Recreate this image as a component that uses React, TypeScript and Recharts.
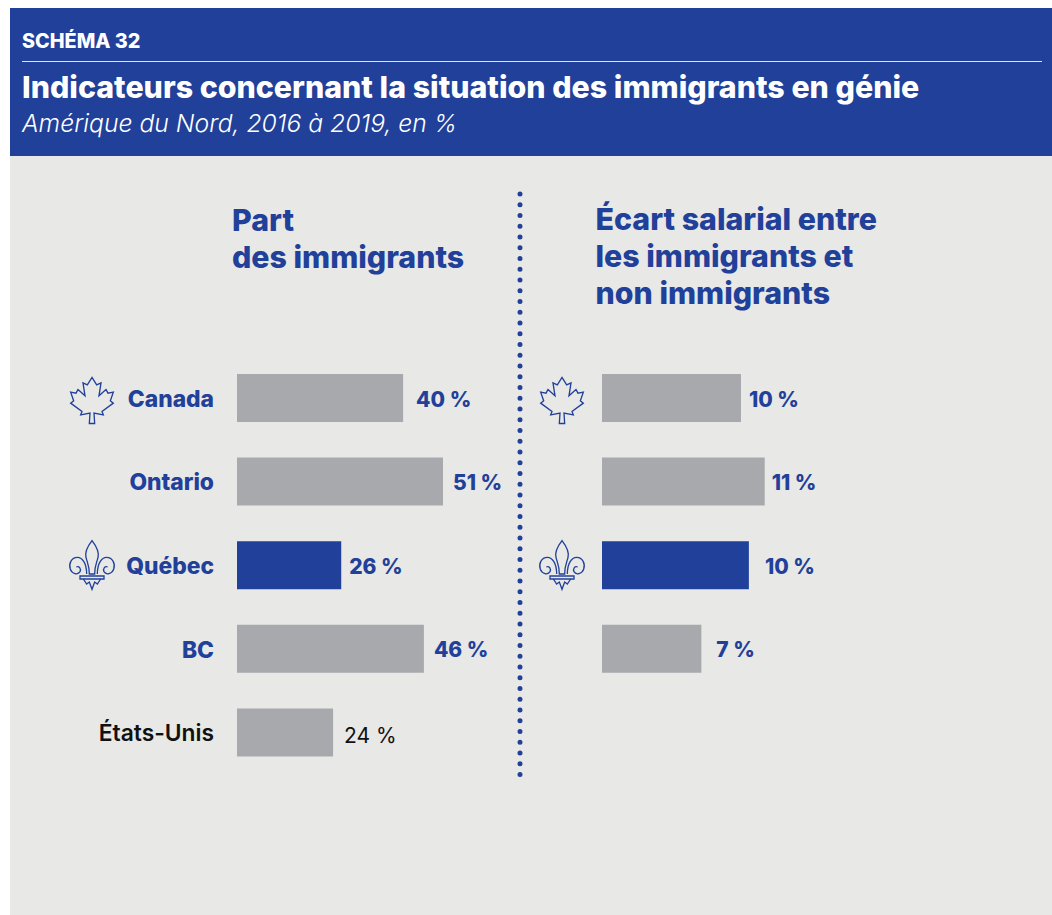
import { BarChart, Bar, Cell, XAxis, YAxis } from 'recharts';

const regions = ['Canada', 'Ontario', 'Québec', 'BC', 'États-Unis'];
const immigrantShare = [40.8, 50.6, 25.6, 45.9, 23.6];
const immigrantShareLabels = ['40 %', '51 %', '26 %', '46 %', '24 %'];
const wageGap = [9.65, 11.3, 10.2, 6.9, null];
const wageGapLabels = ['10 %', '11 %', '10 %', '7 %', ''];

const shareData = regions.map((region, i) => ({ region, value: immigrantShare[i], label: immigrantShareLabels[i] }));
const gapData = regions.map((region, i) => ({ region, value: wageGap[i], label: wageGapLabels[i] }));

// the labels in the original sit at uneven distances from the bars
const shareLabelGaps = [13, 10, 8, 10, 11];
const gapLabelGaps = [8, 7, 16, 15, 0];

const BLUE = '#21409a';
const GREY = '#a7a9ac';
const FONT = 'Inter, sans-serif';

const MAPLE =
  'M126 50 L140 72 L153 66 L147 105 L168 86 L174 97 L190 94 L181 120 L190 127 L156 152 L160 162 L132 157 L134 188 L118 188 L120 157 L92 162 L96 152 L62 127 L71 120 L62 94 L78 97 L84 86 L105 105 L99 66 L112 72 Z';
const LILY = [
  'M126 542 C112 560 104 575 108 592 C111 606 118 616 118 642 L134 642 C134 616 141 606 144 592 C148 575 140 560 126 542 Z',
  'M110 642 C110 612 98 592 82 592 C64 592 55 612 61 628 C66 642 84 646 90 635 C94 627 88 617 79 621',
  'M142 642 C142 612 154 592 170 592 C188 592 197 612 191 628 C186 642 168 646 162 635 C158 627 164 617 173 621',
  'M90 648 L162 648 L162 657 L90 657 Z',
  'M100 657 L110 672 L118 666 L126 688 L134 666 L142 672 L152 657',
];

function Icon({ region, x, y }: { region: string; x: number; y: number }) {
  if (region === 'Canada') {
    return (
      <g transform={`translate(${x} ${y}) scale(0.3333) translate(-126 -111)`} fill="none" stroke={BLUE} strokeWidth={4}>
        <path d={MAPLE} />
      </g>
    );
  }
  if (region === 'Québec') {
    return (
      <g transform={`translate(${x} ${y}) scale(0.3333) translate(-126 -615)`} fill="none" stroke={BLUE} strokeWidth={4}>
        {LILY.map((d) => (
          <path key={d} d={d} />
        ))}
      </g>
    );
  }
  return null;
}

function LeftTick({ x, y, payload }: any) {
  const name = payload.value as string;
  return (
    <g>
      <Icon region={name} x={92} y={y} />
      <text
        x={x}
        y={y}
        dy={9}
        textAnchor="end"
        fontFamily={FONT}
        fontSize={22.8}
        fontWeight={name === 'États-Unis' ? 600 : 800}
        fill={name === 'États-Unis' ? '#111' : BLUE}
      >
        {name}
      </text>
    </g>
  );
}

function RightTick({ y, payload }: any) {
  return <Icon region={payload.value} x={42} y={y} />;
}

function makeLabel(labels: string[], gaps: number[]) {
  return function ValueLabel({ x, y, width, height, index }: any) {
    const last = labels[index] === '24 %';
    return (
      <text
        x={x + width + gaps[index]}
        y={y + height / 2}
        dy={last ? 10.5 : 8.5}
        fontFamily={FONT}
        fontSize={21}
        fontWeight={last ? 400 : 800}
        fill={last ? '#111' : BLUE}
      >
        {labels[index]}
      </text>
    );
  };
}

function Heading({ x, top, lines }: { x: number; top: number; lines: string[] }) {
  return (
    <div style={{ position: 'absolute', left: x, top, color: BLUE, fontSize: 30.3, fontWeight: 800, lineHeight: '37px', whiteSpace: 'nowrap' }}>
      {lines.map((line) => (
        <div key={line}>{line}</div>
      ))}
    </div>
  );
}

function Chart({ data, colorIndex, width, axisWidth, max, tick, label }: any) {
  return (
    <BarChart
      layout="vertical"
      width={width}
      height={418}
      data={data}
      margin={{ top: 0, right: 0, bottom: 0, left: 0 }}
      barCategoryGap={0}
    >
      <XAxis type="number" hide domain={[0, max]} />
      <YAxis type="category" dataKey="region" width={axisWidth} axisLine={false} tickLine={false} interval={0} tick={tick} tickMargin={17} />
      <Bar dataKey="value" barSize={48} isAnimationActive={false} label={label}>
        {data.map((d: any, i: number) => (
          <Cell key={d.region} fill={i === colorIndex ? BLUE : GREY} />
        ))}
      </Bar>
    </BarChart>
  );
}

export default function App() {
  return (
    <div style={{ position: 'absolute', left: 0, top: 0, width: 1052, height: 915, background: '#fff', fontFamily: FONT, overflow: 'hidden' }}>
      <div style={{ position: 'absolute', left: 10, top: 8, width: 1042, height: 148, background: BLUE, color: '#fff' }}>
        <div style={{ position: 'absolute', left: 12, top: 21, fontSize: 19.8, fontWeight: 800, whiteSpace: 'nowrap' }}>SCHÉMA 32</div>
        <div style={{ position: 'absolute', left: 12, top: 52.5, width: 1020, height: 1, background: '#dfe4f2' }} />
        <div style={{ position: 'absolute', left: 12, top: 60.5, fontSize: 30.35, fontWeight: 800, whiteSpace: 'nowrap' }}>
          Indicateurs concernant la situation des immigrants en génie
        </div>
        <div style={{ position: 'absolute', left: 12, top: 100, fontSize: 24.7, fontWeight: 300, fontStyle: 'italic', whiteSpace: 'nowrap' }}>
          Amérique du Nord, 2016 à 2019, en %
        </div>
      </div>
      <div style={{ position: 'absolute', left: 10, top: 156, width: 1042, height: 759, background: '#e8e8e6' }} />

      <Heading x={232} top={202} lines={['Part', 'des immigrants']} />
      <Heading x={595.5} top={201} lines={['Écart salarial entre', 'les immigrants et', 'non immigrants']} />

      <svg style={{ position: 'absolute', left: 510, top: 185 }} width={20} height={600}>
        <line x1={10} y1={9} x2={10} y2={590} stroke={BLUE} strokeWidth={5} strokeLinecap="round" strokeDasharray="0 10.75" />
      </svg>

      <div style={{ position: 'absolute', left: 0, top: 356 }}>
        <Chart
          data={shareData}
          colorIndex={2}
          width={522}
          axisWidth={237}
          max={70}
          tick={<LeftTick />}
          label={makeLabel(immigrantShareLabels, shareLabelGaps)}
        />
      </div>
      <div style={{ position: 'absolute', left: 520, top: 356 }}>
        <Chart
          data={gapData}
          colorIndex={2}
          width={370}
          axisWidth={82}
          max={20}
          tick={<RightTick />}
          label={makeLabel(wageGapLabels, gapLabelGaps)}
        />
      </div>
    </div>
  );
}
